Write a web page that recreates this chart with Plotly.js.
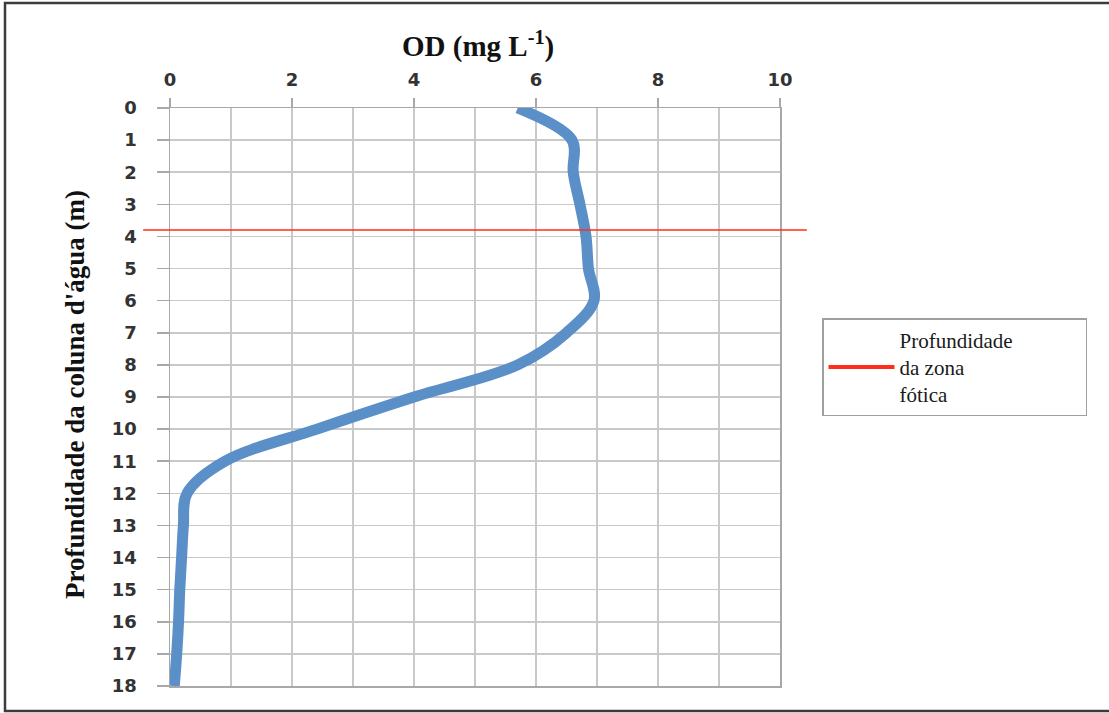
<!DOCTYPE html>
<html>
<head>
<meta charset="utf-8">
<script src="https://cdn.plot.ly/plotly-3.0.1.min.js"></script>
<style>
  html, body { margin: 0; padding: 0; background: #ffffff; }
  #chart { width: 1109px; height: 713px; }
</style>
</head>
<body>
<div id="chart"></div>
<script>
// ---- data ----
const depth = [0, 1, 2, 3, 4, 5, 6, 7, 8, 9, 10, 11, 12, 13, 14, 15, 16, 17, 18];
const od = [5.70, 6.59, 6.61, 6.72, 6.82, 6.86, 6.95, 6.50, 5.70, 4.00, 2.41, 0.90, 0.28, 0.22, 0.19, 0.16, 0.14, 0.11, 0.07];
const photicDepth = 3.8;
const photicLineX = [-0.44, 10.44];
const xTickVals = [0, 2, 4, 6, 8, 10];
const yTickVals = depth;
const legendName = "Profundidade<br>da zona<br>fótica";
const xTitle = "OD (mg L<sup>-1</sup>)";
const yTitle = "Profundidade da coluna d'água (m)";

const xRange = [0, 10];
const yRange = [18, 0];

const W = 1109, H = 713;
const M = { l: 170, r: 329, t: 108, b: 27 };
const plotW = W - M.l - M.r;
const plotH = H - M.t - M.b;

function toPaperX(v) { return (v - xRange[0]) / (xRange[1] - xRange[0]); }
function pxToPaperX(px) { return (px - M.l) / plotW; }
function pxToPaperY(py) { return (H - M.b - py) / plotH; }

const traces = [
  {
    type: 'scatter', mode: 'lines',
    x: od, y: depth,
    line: { color: '#5b8fc8', width: 11, shape: 'spline', smoothing: 1 },
    showlegend: false, hoverinfo: 'skip'
  },
  {
    type: 'scatter', mode: 'lines',
    x: [null], y: [null],
    name: legendName,
    line: { color: '#ff2d1a', width: 4 },
    showlegend: true
  }
];

const gridColor = '#c9c9c9';
const lineColor = '#a8a8a8';
const tickFont = { family: 'DejaVu Sans', size: 18, color: '#333333', weight: 'bold' };
const titleFont = { family: 'Liberation Serif', size: 29, color: '#111111', weight: 'bold' };

const layout = {
  width: W, height: H,
  margin: M,
  paper_bgcolor: '#ffffff',
  plot_bgcolor: '#ffffff',
  showlegend: true,
  xaxis: {
    side: 'top',
    range: xRange,
    tickmode: 'array', tickvals: xTickVals,
    ticks: 'outside', ticklen: 9, tickwidth: 1.5, tickcolor: lineColor,
    ticklabelstandoff: 4,
    showgrid: true, gridcolor: gridColor, gridwidth: 1.5,
    minor: { dtick: 1, showgrid: true, gridcolor: gridColor, gridwidth: 1.5, ticks: '' },
    showline: true, linecolor: lineColor, linewidth: 1.5, mirror: true,
    zeroline: false,
    tickfont: tickFont
  },
  yaxis: {
    range: yRange,
    tickmode: 'array', tickvals: yTickVals,
    ticks: 'outside', ticklen: 12, tickwidth: 1.5, tickcolor: lineColor,
    ticklabelstandoff: 16,
    showgrid: true, gridcolor: gridColor, gridwidth: 1.5,
    showline: true, linecolor: lineColor, linewidth: 1.5, mirror: true,
    zeroline: false,
    tickfont: tickFont
  },
  annotations: [
    {
      text: xTitle, xref: 'paper', yref: 'paper',
      x: pxToPaperX(478), y: pxToPaperY(44),
      xanchor: 'center', yanchor: 'middle', showarrow: false,
      font: titleFont
    },
    {
      text: yTitle, xref: 'paper', yref: 'paper', textangle: -90,
      x: pxToPaperX(75), y: pxToPaperY(395),
      xanchor: 'center', yanchor: 'middle', showarrow: false,
      font: { family: 'Liberation Serif', size: 27, color: '#111111', weight: 'bold' }
    }
  ],
  legend: {
    x: pxToPaperX(822), y: pxToPaperY(318),
    xanchor: 'left', yanchor: 'top',
    orientation: 'h',
    entrywidth: 181, entrywidthmode: 'pixels',
    bgcolor: '#ffffff', bordercolor: '#a0a0a0', borderwidth: 1.5,
    font: { family: 'Liberation Serif', size: 21, color: '#1a1a1a' },
    itemwidth: 66, valign: 'middle'
  },
  shapes: [
    {
      type: 'line', xref: 'paper', yref: 'y',
      x0: toPaperX(photicLineX[0]), x1: toPaperX(photicLineX[1]),
      y0: photicDepth, y1: photicDepth,
      line: { color: '#ff2d1a', width: 1.5 }, layer: 'above'
    },
    {
      type: 'rect', xref: 'paper', yref: 'paper',
      x0: pxToPaperX(5), x1: pxToPaperX(1115),
      y0: pxToPaperY(711), y1: pxToPaperY(3),
      line: { color: '#3c3c3c', width: 2.5 }, fillcolor: 'rgba(0,0,0,0)', layer: 'above'
    }
  ]
};

Plotly.newPlot('chart', traces, layout, { displayModeBar: false, staticPlot: true });
</script>
</body>
</html>
